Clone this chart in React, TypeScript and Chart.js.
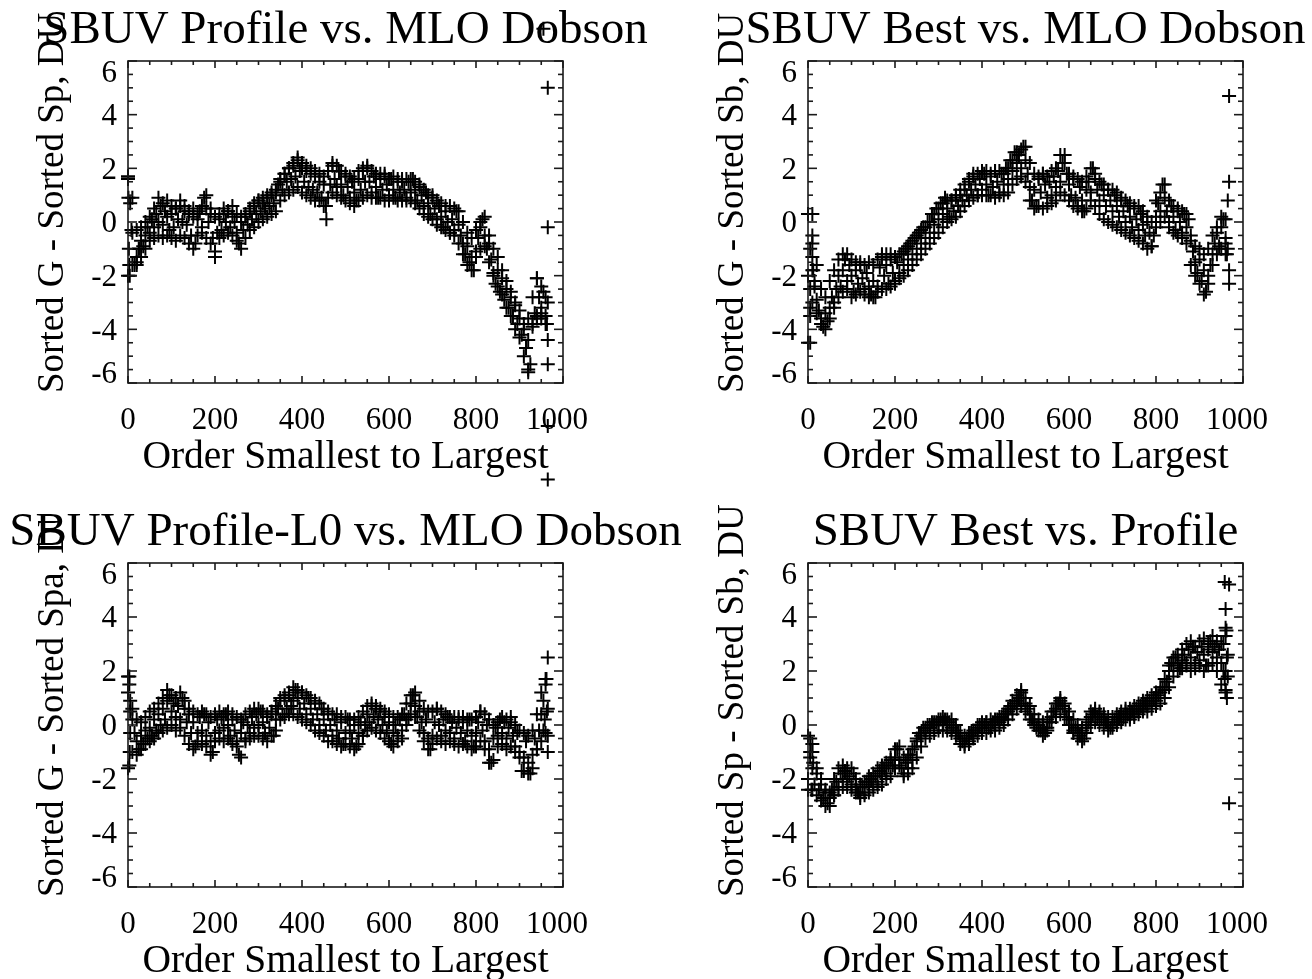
import React, { useEffect, useRef } from "react";
import { Chart, registerables } from "chart.js";

Chart.register(...registerables);

// ---- data -------------------------------------------------------------
// sorted-order index spacing of the sampled points
const MID_STEP = 5; // centre samples
const EDGE_STEP = 10; // upper / lower edge samples of the point cloud

const X_TICKS = [0, 200, 400, 600, 800, 1000];
const Y_TICKS = [-6, -4, -2, 0, 2, 4, 6];

const TITLES = [
  "SBUV Profile vs. MLO Dobson",
  "SBUV Best vs. MLO Dobson",
  "SBUV Profile-L0 vs. MLO Dobson",
  "SBUV Best vs. Profile",
];
const Y_TITLES = [
  "Sorted G - Sorted Sp, DU",
  "Sorted G - Sorted Sb, DU",
  "Sorted G - Sorted Spa, DU",
  "Sorted Sp - Sorted Sb, DU",
];
const X_TITLE = "Order Smallest to Largest";

// ---------- SBUV Profile vs. MLO Dobson
const PROFILE_MID = [
  1.6, 0.7, -0.4, -1.6, -1.3, -1.0, -0.7, -0.9, -0.5, -0.2,
  -0.4, 0.1, -0.2, 0.3, 0.0, 0.6, -0.1, 0.4, 0.2, -0.3,
  0.3, -0.2, 0.5, 0.1, 0.6, 0.0, 0.4, -0.1, 0.3, -0.5,
  0.2, -0.8, 0.1, 0.4, -0.2, 0.9, 0.5, 0.0, 0.3, -0.6,
  -1.1, -0.4, 0.1, -0.3, 0.3, 0.0, 0.4, -0.2, 0.2, 0.0,
  -0.4, -0.8, 0.0, -0.3, 0.2, -0.1, 0.4, 0.1, 0.6, 0.3,
  0.8, 0.4, 0.9, 0.5, 1.0, 0.6, 1.1, 0.7, 1.2, 1.4,
  1.6, 1.2, 1.8, 1.5, 2.0, 1.6, 2.1, 1.7, 2.3, 1.9,
  2.0, 1.5, 1.9, 1.3, 1.8, 1.2, 1.7, 1.1, 1.5, 0.9,
  1.4, 0.6, 1.9, 1.4, 2.1, 1.6, 1.3, 1.9, 1.4, 1.0,
  1.7, 1.3, 0.9, 1.5, 1.1, 0.8, 1.6, 1.2, 1.9, 1.5,
  2.0, 1.5, 1.1, 1.7, 1.3, 0.9, 1.6, 1.2, 1.8, 1.4,
  1.0, 1.6, 1.2, 0.9, 1.5, 1.1, 1.6, 1.2, 0.8, 1.5,
  1.1, 1.6, 1.2, 0.8, 1.4, 1.0, 0.6, 1.1, 0.7, 0.3,
  0.9, 0.5, 0.1, 0.6, 0.2, -0.2, 0.4, 0.0, -0.4, 0.1,
  -0.3, 0.4, -0.1, -0.5, -0.8, -1.2, -0.9, -1.5, -1.3, -1.8,
  -1.1, -0.6, -0.2, 0.1, -0.5, -1.0, -0.8, -1.4, -1.9, -2.3,
  -1.8, -2.6, -2.1, -2.9, -2.5, -3.2, -2.8, -3.5, -3.1, -3.8,
  -3.6, -4.2, -4.0, -4.7, -4.4, -5.3, -3.8, -3.4, -2.1, -2.8,
  -3.2, -2.6, -3.5, -3.0,
];
const PROFILE_HIGH = [
  1.7, 0.9, -0.3, -0.2, 0.0, 0.2, 0.5, 0.9, 0.7, 0.8,
  0.6, 0.5, 0.8, 0.6, 0.4, 0.5, 0.3, 0.6, 1.0, 0.5,
  0.2, 0.3, 0.5, 0.4, 0.6, 0.3, 0.2, 0.3, 0.5, 0.7,
  0.8, 0.7, 0.9, 1.0, 1.1, 1.5, 1.8, 2.0, 2.2, 2.4,
  2.2, 2.1, 2.0, 1.9, 1.8, 1.7, 1.9, 2.2, 2.1, 1.9,
  1.8, 1.7, 1.6, 1.9, 2.0, 2.1, 1.9, 1.8, 1.8, 1.7,
  1.6, 1.7, 1.6, 1.5, 1.6, 1.6, 1.5, 1.3, 1.2, 1.0,
  1.0, 0.8, 0.7, 0.6, 0.6, 0.5, 0.4, 0.0, -0.4, -0.6,
  -0.3, 0.0, 0.2, -0.5, -1.0, -1.3, -1.8, -2.2, -2.6, -3.0,
  -3.3, -3.8, -3.6, -2.8, -2.1, -2.4, -2.8,
];
const PROFILE_LOW = [
  -2.0, -1.6, -1.6, -1.3, -1.0, -0.7, -0.6, -0.5, -0.6, -0.5,
  -0.6, -0.7, -0.5, -0.6, -0.8, -1.0, -0.5, -0.4, -0.6, -0.8,
  -1.3, -0.6, -0.5, -0.4, -0.5, -0.7, -1.0, -0.6, -0.3, -0.2,
  0.0, 0.1, 0.2, 0.3, 0.4, 0.8, 1.0, 1.1, 1.2, 1.3,
  1.1, 1.0, 0.9, 0.8, 0.8, 0.6, 0.9, 1.1, 1.0, 0.9,
  0.8, 0.7, 0.6, 0.8, 0.9, 1.0, 0.9, 0.9, 0.9, 0.8,
  0.8, 0.9, 0.8, 0.8, 0.9, 0.8, 0.7, 0.5, 0.3, 0.2,
  0.1, -0.1, -0.2, -0.3, -0.4, -0.5, -0.8, -1.2, -1.6, -1.8,
  -1.3, -1.0, -0.9, -1.5, -2.0, -2.4, -2.7, -3.2, -3.5, -4.0,
  -4.3, -5.0, -5.5, -3.9, -3.5, -3.6, -3.8,
];
const PROFILE_EXTRA = [
  [0, 1.7], [1, 0.9], [2, -1.0], [3, -1.6], [4, -2.0], [8, -0.3], [20, -1.5], [25, -1.0],
  [456, 0.1], [920, -5.6], [940, -3.6], [950, -3.4], [955, 7.2], [965, 5.0], [965, -0.2],
  [963, -3.8], [965, -4.4], [965, -5.3], [965, -7.6], [965, -9.6],
];

// ---------- SBUV Best vs. MLO Dobson
const BEST_MID = [
  -2.0, -1.0, -1.8, -2.4, -2.9, -3.3, -3.6, -3.9, -3.4, -3.7,
  -3.2, -2.8, -3.0, -2.5, -2.0, -2.4, -1.8, -1.4, -2.2, -1.6,
  -2.0, -2.6, -1.8, -2.3, -1.6, -2.1, -2.5, -1.9, -2.4, -2.7,
  -2.2, -2.8, -2.4, -1.7, -1.2, -2.0, -1.6, -2.3, -1.4, -1.9,
  -2.2, -1.5, -1.9, -1.2, -1.6, -1.0, -1.4, -0.8, -1.2, -0.6,
  -1.0, -0.4, -0.8, -0.2, -0.6, 0.0, -0.4, 0.3, -0.1, 0.5,
  0.1, 0.7, 0.3, 0.9, 0.5, 0.2, 0.8, 0.4, 1.0, 0.6,
  1.2, 0.8, 1.4, 1.0, 1.6, 1.2, 1.8, 1.4, 1.0, 1.6,
  1.2, 1.8, 1.4, 1.0, 1.7, 1.3, 1.9, 1.5, 1.1, 1.8,
  1.4, 2.0, 1.6, 2.3, 1.9, 2.6, 2.2, 2.5, 2.0, 2.8,
  2.3, 1.8, 1.3, 0.8, 1.2, 0.6, 1.6, 1.1, 1.8, 1.4,
  0.9, 1.5, 1.0, 1.7, 1.3, 1.9, 1.5, 2.2, 2.5, 1.8,
  1.4, 1.0, 1.6, 0.9, 0.6, 1.3, 0.8, 0.4, 1.2, 1.5,
  1.1, 2.0, 1.6, 1.2, 0.8, 1.4, 1.0, 0.6, 1.2, 0.8,
  0.4, 1.0, 0.6, 0.2, 0.8, 0.4, 0.0, 0.6, 0.2, -0.2,
  0.5, 0.1, -0.3, 0.3, -0.1, -0.5, 0.0, -0.4, -0.9, -0.5,
  0.2, 0.7, 0.4, 1.4, 0.9, 0.4, 0.0, 0.6, 0.2, -0.3,
  0.4, 0.0, -0.4, 0.3, -0.2, 0.1, -0.7, -1.1, -1.5, -1.9,
  -1.4, -2.2, -1.8, -2.6, -2.0, -1.6, -1.2, -0.8, -0.4, -0.9,
  -0.2, 0.1, -0.6, -1.0,
];
const BEST_HIGH = [
  0.3, -0.8, -1.6, -2.5, -2.8, -2.2, -1.8, -1.4, -1.2, -1.2,
  -1.4, -1.5, -1.5, -1.6, -1.5, -1.6, -1.4, -1.3, -1.2, -1.2,
  -1.3, -1.2, -1.1, -0.9, -0.7, -0.5, -0.3, -0.2, 0.0, 0.3,
  0.5, 0.7, 0.8, 0.8, 0.9, 1.0, 1.2, 1.5, 1.7, 1.8,
  1.9, 1.9, 1.8, 1.9, 1.9, 1.8, 2.0, 2.3, 2.6, 2.7,
  2.8, 2.2, 1.8, 1.7, 1.8, 1.7, 1.9, 2.0, 2.5, 2.2,
  1.8, 1.7, 1.6, 1.5, 1.7, 2.0, 1.8, 1.5, 1.4, 1.2,
  1.2, 1.1, 0.9, 0.8, 0.7, 0.6, 0.6, 0.4, 0.2, 0.0,
  0.8, 1.1, 1.4, 0.8, 0.6, 0.5, 0.4, 0.3, -0.5, -0.9,
  -1.0, -1.2, -1.0, -0.5, -0.2, 0.2, 0.1,
];
const BEST_LOW = [
  -4.5, -3.0, -3.4, -3.8, -4.0, -3.6, -3.2, -2.8, -2.6, -2.5,
  -2.8, -2.7, -2.6, -2.7, -2.8, -2.8, -2.6, -2.5, -2.5, -2.4,
  -2.3, -2.1, -2.0, -1.8, -1.6, -1.4, -1.2, -1.0, -0.8, -0.6,
  -0.4, -0.2, 0.0, 0.1, 0.2, 0.4, 0.6, 0.8, 0.9, 1.0,
  1.0, 1.0, 1.0, 0.9, 1.0, 1.0, 1.1, 1.4, 1.6, 1.7,
  1.5, 0.8, 0.5, 0.6, 0.5, 0.6, 0.7, 0.8, 1.1, 1.0,
  0.8, 0.6, 0.5, 0.4, 0.5, 0.8, 0.6, 0.3, 0.1, 0.0,
  -0.1, -0.2, -0.3, -0.4, -0.5, -0.6, -0.7, -0.8, -1.0, -0.9,
  -0.2, 0.0, 0.2, -0.2, -0.4, -0.5, -0.6, -0.8, -1.6, -2.0,
  -2.3, -2.7, -2.3, -1.6, -1.2, -1.0, -1.2,
];
const BEST_EXTRA = [
  [5, -2.5], [5, -3.2], [5, -3.5], [5, -4.5], [10, 0.3], [10, -0.5], [10, -1.3],
  [12, -1.8], [15, -2.2], [960, -0.8], [963, -1.2], [968, 4.7], [968, 1.5],
  [965, 0.8], [968, -1.8], [968, -2.3],
];

// ---------- SBUV Profile-L0 vs. MLO Dobson
const PROFILE_L0_MID = [
  1.2, 0.9, 0.2, -0.3, -0.6, -0.9, -0.4, -0.7, -0.2, -0.5,
  -0.1, -0.4, 0.2, -0.2, 0.4, 0.0, 0.6, 0.2, 0.9, 1.1,
  0.5, 0.8, 0.3, 0.7, 0.2, 1.0, 0.6, 0.1, 0.4, -0.3,
  0.1, -0.8, -0.3, 0.3, -0.2, 0.4, -0.4, 0.1, -0.6, -1.0,
  -0.3, 0.2, -0.2, 0.3, -0.1, 0.4, 0.0, -0.4, 0.2, -0.2,
  -0.6, -1.1, -0.3, 0.1, -0.5, 0.0, -0.3, 0.3, -0.1, 0.4,
  0.0, 0.5, 0.1, -0.3, 0.3, -0.1, 0.4, -0.4, 0.2, 0.6,
  0.9, 0.4, 1.0, 0.6, 1.1, 0.7, 0.9, 1.3, 1.0, 0.6,
  1.2, 0.8, 0.4, 1.0, 0.6, 0.2, 0.8, 0.4, 0.0, 0.6,
  0.2, -0.2, 0.4, 0.0, -0.4, 0.2, -0.2, -0.5, 0.1, -0.7,
  -0.3, 0.2, -0.2, -0.5, 0.0, -0.8, -0.3, 0.1, -0.4, 0.0,
  0.4, 0.1, 0.7, 0.3, 0.6, 0.2, 0.5, 0.0, 0.3, -0.2,
  0.1, -0.7, -0.3, 0.0, -0.4, 0.2, -0.2, 0.4, 0.0, 0.3,
  0.8, 1.1, 0.7, 0.3, 0.5, 0.1, -0.3, 0.2, -0.5, -0.9,
  -0.4, 0.1, 0.6, 0.0, -0.4, 0.2, -0.2, 0.3, -0.3, 0.1,
  -0.5, -0.1, 0.3, -0.3, 0.1, -0.6, -0.2, 0.2, -0.4, -0.8,
  -0.3, 0.1, 0.5, -0.2, -0.6, 0.0, -0.9, -1.4, -0.5, -0.1,
  -0.4, 0.2, -0.3, 0.1, -0.5, -0.1, 0.3, -0.4, -0.8, -0.3,
  -1.0, -1.7, -1.2, -0.6, -1.4, -1.8, -1.1, -0.5, -0.9, -0.2,
  0.4, 0.9, 1.5, 0.6,
];
const PROFILE_L0_HIGH = [
  1.8, 0.6, 0.2, 0.1, 0.3, 0.5, 0.6, 0.8, 1.0, 1.3,
  1.1, 1.0, 1.2, 0.9, 0.6, 0.5, 0.4, 0.5, 0.4, 0.3,
  0.4, 0.5, 0.4, 0.5, 0.4, 0.3, 0.2, 0.4, 0.5, 0.6,
  0.6, 0.5, 0.4, 0.5, 0.7, 1.0, 1.1, 1.2, 1.4, 1.3,
  1.2, 1.1, 1.0, 0.9, 0.8, 0.6, 0.5, 0.4, 0.4, 0.3,
  0.3, 0.2, 0.2, 0.3, 0.5, 0.7, 0.8, 0.7, 0.6, 0.5,
  0.4, 0.3, 0.3, 0.4, 0.8, 1.1, 1.2, 0.9, 0.6, 0.5,
  0.5, 0.6, 0.5, 0.4, 0.3, 0.3, 0.2, 0.3, 0.2, 0.2,
  0.3, 0.5, 0.4, 0.2, 0.0, 0.1, 0.3, 0.2, 0.1, 0.0,
  -0.2, -0.3, -0.4, -0.2, 0.4, 1.2, 1.7,
];
const PROFILE_L0_LOW = [
  -1.6, -1.0, -1.1, -0.9, -0.7, -0.6, -0.5, -0.3, -0.2, -0.1,
  0.0, -0.2, -0.1, -0.4, -0.7, -0.9, -0.6, -0.7, -0.8, -1.1,
  -0.6, -0.5, -0.6, -0.5, -0.7, -0.8, -1.2, -0.6, -0.5, -0.4,
  -0.4, -0.5, -0.6, -0.4, -0.2, 0.2, 0.3, 0.4, 0.4, 0.3,
  0.2, 0.1, 0.0, -0.2, -0.3, -0.4, -0.6, -0.6, -0.7, -0.8,
  -0.7, -0.8, -0.9, -0.7, -0.4, -0.2, -0.1, -0.2, -0.3, -0.5,
  -0.6, -0.8, -0.6, -0.5, 0.2, 0.4, 0.3, -0.2, -0.6, -0.9,
  -0.7, -0.5, -0.6, -0.7, -0.6, -0.7, -0.8, -0.7, -0.8, -0.9,
  -0.8, -0.6, -0.9, -1.4, -1.3, -0.8, -0.7, -0.9, -0.8, -1.0,
  -1.2, -1.7, -1.8, -1.6, -0.9, -0.6, -0.3,
];
const PROFILE_L0_EXTRA = [
  [3, 1.8], [3, 1.5], [5, 0.5], [5, -0.3], [4, -1.0], [3, -1.5],
  [955, -0.2], [958, 0.2], [962, 1.7], [963, 0.5], [965, 2.5], [965, -0.4], [965, -1.0],
];

// ---------- SBUV Best vs. Profile
const BEST_PROFILE_MID = [
  -2.0, -1.0, -1.6, -2.2, -1.8, -2.4, -2.2, -2.7, -2.5, -2.9,
  -2.7, -2.4, -2.6, -2.1, -2.3, -1.8, -2.0, -1.7, -2.1, -1.9,
  -2.2, -1.8, -2.3, -2.5, -2.6, -2.3, -2.5, -2.1, -2.3, -2.0,
  -2.2, -1.9, -2.1, -1.7, -1.9, -1.6, -1.8, -1.5, -1.3, -1.5,
  -1.2, -0.9, -1.3, -1.6, -1.8, -1.4, -1.6, -1.1, -1.3, -0.8,
  -0.6, -0.3, -0.4, -0.1, -0.2, 0.0, -0.1, 0.1, 0.0, 0.1,
  0.0, 0.2, 0.1, 0.2, 0.0, 0.1, -0.1, 0.0, -0.2, -0.3,
  -0.5, -0.6, -0.7, -0.5, -0.6, -0.3, -0.4, -0.2, -0.1, 0.0,
  -0.1, 0.0, 0.1, -0.1, 0.0, 0.1, 0.0, 0.2, 0.1, 0.3,
  0.2, 0.4, 0.5, 0.7, 0.6, 0.8, 0.9, 1.0, 1.2, 1.0,
  0.8, 0.6, 0.4, 0.2, 0.1, -0.1, 0.0, -0.2, -0.1, -0.3,
  -0.1, 0.1, 0.3, 0.5, 0.6, 0.8, 0.9, 0.7, 0.6, 0.3,
  0.2, 0.0, -0.2, -0.1, -0.3, -0.4, -0.2, -0.5, -0.1, 0.1,
  0.3, 0.4, 0.5, 0.3, 0.4, 0.2, 0.3, 0.1, 0.0, -0.1,
  0.0, 0.2, 0.1, 0.3, 0.4, 0.3, 0.5, 0.4, 0.3, 0.5,
  0.4, 0.6, 0.5, 0.7, 0.6, 0.8, 0.7, 0.9, 0.8, 1.0,
  0.9, 1.1, 1.2, 1.4, 1.3, 1.6, 2.0, 2.3, 2.2, 2.5,
  2.3, 2.1, 2.4, 2.6, 2.3, 2.8, 2.5, 2.9, 2.3, 2.7,
  2.4, 2.9, 2.6, 2.2, 2.8, 3.1, 2.7, 2.9, 2.5, 2.8,
  2.3, 3.0, 2.0, 2.6,
];
const BEST_PROFILE_HIGH = [
  -0.4, -1.0, -1.6, -2.0, -2.4, -2.5, -2.0, -1.6, -1.5, -1.6,
  -1.6, -2.0, -2.2, -2.1, -1.9, -1.8, -1.6, -1.5, -1.4, -1.2,
  -0.9, -0.8, -1.2, -1.1, -0.9, -0.5, -0.3, -0.1, 0.0, 0.1,
  0.2, 0.3, 0.2, 0.2, 0.0, -0.3, -0.4, -0.3, -0.2, 0.0,
  0.1, 0.1, 0.2, 0.2, 0.3, 0.4, 0.6, 0.9, 1.1, 1.3,
  1.0, 0.7, 0.4, 0.2, 0.1, 0.2, 0.5, 0.8, 1.0, 0.8,
  0.5, 0.2, 0.0, -0.1, 0.2, 0.5, 0.6, 0.5, 0.4, 0.3,
  0.3, 0.4, 0.5, 0.6, 0.6, 0.7, 0.8, 0.9, 1.0, 1.1,
  1.2, 1.4, 1.7, 2.2, 2.5, 2.6, 2.8, 3.0, 3.1, 2.9,
  3.1, 3.2, 3.0, 3.3, 3.1, 3.0, 3.6,
];
const BEST_PROFILE_LOW = [
  -2.4, -2.4, -2.6, -2.8, -3.0, -3.0, -2.6, -2.4, -2.3, -2.3,
  -2.4, -2.5, -2.7, -2.6, -2.5, -2.4, -2.3, -2.2, -2.0, -1.9,
  -1.6, -1.5, -1.9, -1.8, -1.6, -1.2, -0.8, -0.5, -0.4, -0.3,
  -0.2, -0.2, -0.2, -0.3, -0.4, -0.7, -0.8, -0.7, -0.5, -0.4,
  -0.3, -0.3, -0.2, -0.2, -0.1, 0.0, 0.2, 0.4, 0.6, 0.7,
  0.5, 0.2, 0.0, -0.2, -0.4, -0.2, 0.1, 0.3, 0.4, 0.3,
  0.0, -0.3, -0.5, -0.6, -0.3, 0.0, 0.1, 0.0, -0.1, -0.2,
  -0.1, 0.0, 0.1, 0.2, 0.2, 0.3, 0.4, 0.5, 0.5, 0.6,
  0.7, 0.8, 1.0, 1.4, 1.8, 2.0, 2.1, 2.2, 2.0, 2.1,
  2.2, 2.0, 2.2, 2.3, 2.0, 1.5, 1.2,
];
const BEST_PROFILE_EXTRA = [
  [5, -0.5], [5, -1.2], [8, -2.4], [10, -0.7], [12, -1.4],
  [955, 2.0], [958, 5.3], [968, 5.2], [960, 4.3], [962, 3.5], [960, 3.3],
  [963, 2.5], [958, 1.7], [965, 1.8], [960, 1.3], [963, 1.0], [968, -2.9],
];

const MIDS = [PROFILE_MID, BEST_MID, PROFILE_L0_MID, BEST_PROFILE_MID];
const HIGHS = [PROFILE_HIGH, BEST_HIGH, PROFILE_L0_HIGH, BEST_PROFILE_HIGH];
const LOWS = [PROFILE_LOW, BEST_LOW, PROFILE_L0_LOW, BEST_PROFILE_LOW];
const EXTRAS = [PROFILE_EXTRA, BEST_EXTRA, PROFILE_L0_EXTRA, BEST_PROFILE_EXTRA];

// ---- layout -----------------------------------------------------------
const W = 1312;
const H = 979;
// plot box padding inside a full-page canvas: [left, top, right, bottom]
const PADS = [
  [128, 61, 749, 596],
  [808, 61, 69, 596],
  [128, 563, 749, 92],
  [808, 563, 69, 92],
];
// the y title of the lower-left panel is cut at the top of its panel
const Y_TITLE_CLIP_TOP = [0, 0, 521, 0];

const FONT = '"Liberation Serif", "Times New Roman", serif';

const idlAxes = {
  id: "idlAxes",
  beforeDatasetsDraw(chart: any) {
    // let the markers be drawn outside the plot box (no clipping)
    chart.$plotArea = chart.chartArea;
    chart.chartArea = { left: 0, top: 0, right: chart.width, bottom: chart.height, width: chart.width, height: chart.height };
  },
  afterDatasetsDraw(chart: any, _args: any, opts: any) {
    if (chart.$plotArea) chart.chartArea = chart.$plotArea;
    const { ctx, chartArea: a } = chart;
    const xs = chart.scales.x;
    const ys = chart.scales.y;
    ctx.save();
    ctx.strokeStyle = "#1a1a1a";
    ctx.fillStyle = "#000";
    ctx.lineWidth = 1.6;
    ctx.strokeRect(a.left, a.top, a.right - a.left, a.bottom - a.top);

    const line = (x1: number, y1: number, x2: number, y2: number) => {
      ctx.beginPath();
      ctx.moveTo(x1, y1);
      ctx.lineTo(x2, y2);
      ctx.stroke();
    };
    for (let v = 0; v <= 1000; v += 50) {
      const px = xs.getPixelForValue(v);
      const len = v % 200 === 0 ? 7 : 4;
      line(px, a.bottom, px, a.bottom - len);
      line(px, a.top, px, a.top + len);
    }
    for (let k = -12; k <= 12; k++) {
      const py = ys.getPixelForValue(k / 2);
      const len = k % 4 === 0 ? 9 : 5;
      line(a.left, py, a.left + len, py);
      line(a.right, py, a.right - len, py);
    }

    // tick labels
    ctx.font = `31px ${FONT}`;
    ctx.textBaseline = "alphabetic";
    ctx.textAlign = "center";
    X_TICKS.forEach((v, i) => {
      let px = xs.getPixelForValue(v);
      if (i === X_TICKS.length - 1) px -= 6;
      ctx.fillText(String(v), px, a.bottom + 46);
    });
    ctx.textAlign = "right";
    const dh = 20.5;
    Y_TICKS.forEach((v, i) => {
      let base = ys.getPixelForValue(v) + dh / 2;
      if (i === Y_TICKS.length - 1) base = Math.max(base, a.top + dh);
      if (i === 0) base = Math.min(base, a.bottom);
      ctx.fillText(String(v), a.left - 11, base);
    });

    // x title
    ctx.font = `39.5px ${FONT}`;
    ctx.textAlign = "center";
    ctx.fillText(X_TITLE, (a.left + a.right) / 2, a.bottom + 85);

    // y title (rotated)
    ctx.save();
    if (opts.clipTop) {
      ctx.beginPath();
      ctx.rect(0, opts.clipTop, chart.width, chart.height - opts.clipTop);
      ctx.clip();
    }
    ctx.font = `37px ${FONT}`;
    ctx.translate(a.left - 65, a.bottom + 10);
    ctx.rotate(-Math.PI / 2);
    ctx.textAlign = "left";
    ctx.fillText(opts.yTitle, 0, 0);
    ctx.restore();

    // main title
    ctx.font = `47px ${FONT}`;
    ctx.textAlign = "center";
    ctx.fillText(opts.title, (a.left + a.right) / 2, a.top - 18);
    ctx.restore();
  },
};

function Panel({ idx }: { idx: number }) {
  const ref = useRef<HTMLCanvasElement | null>(null);
  useEffect(() => {
    if (!ref.current) return;
    const points = [
      ...MIDS[idx].map((v, i) => ({ x: i * MID_STEP, y: v })),
      ...HIGHS[idx].map((v, i) => ({ x: i * EDGE_STEP, y: v })),
      ...LOWS[idx].map((v, i) => ({ x: i * EDGE_STEP, y: v })),
      ...EXTRAS[idx].map(([x, y]) => ({ x, y })),
    ];
    const [l, t, r, b] = PADS[idx];
    const chart = new Chart(ref.current, {
      type: "scatter",
      data: {
        datasets: [
          {
            data: points,
            pointStyle: "cross",
            pointRadius: 7,
            pointBorderWidth: 2,
            borderColor: "#000",
            backgroundColor: "#000",
            clip: false as any,
          } as any,
        ],
      },
      options: {
        responsive: false,
        animation: false,
        events: [],
        layout: { padding: { left: l, top: t, right: r, bottom: b } },
        plugins: {
          legend: { display: false },
          tooltip: { enabled: false },
          idlAxes: { title: TITLES[idx], yTitle: Y_TITLES[idx], clipTop: Y_TITLE_CLIP_TOP[idx] },
        } as any,
        scales: {
          x: { type: "linear", min: 0, max: 1000, display: false },
          y: { type: "linear", min: -6, max: 6, display: false },
        },
      },
      plugins: [idlAxes as any],
    });
    return () => chart.destroy();
  }, [idx]);
  return (
    <canvas
      ref={ref}
      width={W}
      height={H}
      style={{ position: "absolute", left: 0, top: 0, width: W, height: H }}
    />
  );
}

export default function App() {
  return (
    <div
      style={{
        position: "fixed",
        left: 0,
        top: 0,
        width: W,
        height: H,
        background: "#fff",
        overflow: "hidden",
      }}
    >
      {[0, 1, 2, 3].map((i) => (
        <Panel key={i} idx={i} />
      ))}
    </div>
  );
}
